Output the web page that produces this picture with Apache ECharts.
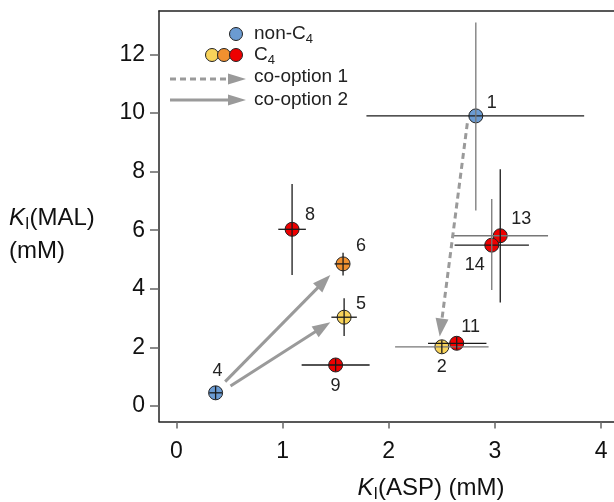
<!DOCTYPE html>
<html>
<head>
    <meta charset="utf-8" />
    <title>KI ASP vs MAL</title>
    <style>
        html, body { margin: 0; padding: 0; background: #fff; }
        #chart { width: 614px; height: 502px; }
    </style>
</head>
<body>
    <div id="chart"></div>
    <script src="https://cdn.jsdelivr.net/npm/echarts@6/dist/echarts.min.js"></script>
    <script>
        // values
        var ids    = ['1', '2', '4', '5', '6', '8', '9', '11', '13', '14'];
        var kiAsp  = [2.82, 2.50, 0.37, 1.58, 1.57, 1.09, 1.50, 2.64, 3.05, 2.97];
        var kiMal  = [9.90, 2.02, 0.45, 3.03, 4.85, 6.03, 1.40, 2.14, 5.81, 5.49];
        var aspLo  = [1.79, 2.06, 0.31, 1.46, 1.49, 0.96, 1.18, 2.37, 2.61, 2.62];
        var aspHi  = [3.84, 2.94, 0.43, 1.70, 1.63, 1.22, 1.82, 2.92, 3.50, 3.32];
        var malLo  = [6.67, 1.80, 0.22, 2.39, 4.45, 4.47, 1.18, 1.92, 3.53, 3.96];
        var malHi  = [13.09, 2.24, 0.68, 3.68, 5.23, 7.58, 1.62, 2.36, 8.08, 7.06];
        var groups = ['non', 'yellow', 'non', 'yellow', 'orange', 'red', 'red', 'red', 'red', 'red'];

        // co-option arrows: [x0, y0, x1, y1] in data units
        var coOption1 = [[2.74, 9.65, 2.48, 2.37]];
        var coOption2 = [[0.46, 0.83, 1.45, 4.47], [0.51, 0.68, 1.45, 2.86]];

        var xTicks = [0, 1, 2, 3, 4];
        var yTicks = [0, 2, 4, 6, 8, 10, 12];

        var palette = { non: '#6b9bd2', yellow: '#f8d35a', orange: '#f1902f', red: '#ee0000' };
        var labelOffset = {
            '1': [16, -13], '2': [0, 20], '4': [2, -22], '5': [17, -13], '6': [18, -18],
            '8': [18, -14], '9': [0, 21], '11': [14, -16], '13': [21, -17], '14': [-17, 20]
        };
        // which error bars are drawn lighter in the original
        var greyBars = { '1y': 1, '13x': 1, '14y': 1, '2x': 1 };
        var FONT = "'Liberation Sans', Arial, sans-serif";

        var pointData = ids.map(function (id, i) {
            return {
                value: [kiAsp[i], kiMal[i]],
                name: id,
                itemStyle: { color: palette[groups[i]] },
                label: { offset: labelOffset[id] }
            };
        });
        var errData = ids.map(function (id, i) {
            return [kiAsp[i], kiMal[i], aspLo[i], aspHi[i], malLo[i], malHi[i], i];
        });

        function arrowItem(dashed) {
            return function (params, api) {
                var p0 = api.coord([api.value(0), api.value(1)]);
                var p1 = api.coord([api.value(2), api.value(3)]);
                var dx = p1[0] - p0[0], dy = p1[1] - p0[1];
                var len = Math.sqrt(dx * dx + dy * dy);
                var ux = dx / len, uy = dy / len;
                var hl = 18, hw = 6.5;
                var bx = p1[0] - ux * hl, by = p1[1] - uy * hl;
                return {
                    type: 'group',
                    children: [{
                        type: 'line',
                        shape: { x1: p0[0], y1: p0[1], x2: bx + ux * 2, y2: by + uy * 2 },
                        style: { stroke: '#9a9a9a', lineWidth: 3, lineDash: dashed ? [6, 4] : null }
                    }, {
                        type: 'polygon',
                        shape: { points: [[p1[0], p1[1]], [bx - uy * hw, by + ux * hw], [bx + uy * hw, by - ux * hw]] },
                        style: { fill: '#9a9a9a' }
                    }]
                };
            };
        }

        function legendArrow(y, dashed) {
            return [{
                type: 'line',
                shape: { x1: 170, y1: y, x2: 230, y2: y },
                style: { stroke: '#9a9a9a', lineWidth: 3, lineDash: dashed ? [6, 4] : null }
            }, {
                type: 'polygon',
                shape: { points: [[228, y - 5.5], [246, y], [228, y + 5.5]] },
                style: { fill: '#9a9a9a' }
            }];
        }

        var subRich = { s: { fontSize: 13, padding: [10, 0, 0, 0], fontFamily: FONT, fill: '#222' } };
        var titleRich = {
            k: { fontStyle: 'italic', fontSize: 24, fontFamily: FONT },
            s: { fontSize: 16, padding: [14, 0, 0, 0], fontFamily: FONT }
        };

        var option = {
            animation: false,
            grid: { left: 159, top: 11, right: 0, bottom: 80.5, containLabel: false, outerBoundsMode: 'none' },
            xAxis: [{
                type: 'value',
                min: -0.163, max: 4.121,
                axisLine: { onZero: false, lineStyle: { color: '#222', width: 1.5 } },
                axisTick: { customValues: xTicks, length: 7, lineStyle: { color: '#666', width: 1.5 } },
                axisLabel: { customValues: xTicks, margin: 19, fontSize: 23, color: '#111', fontFamily: FONT },
                splitLine: { show: false }
            }, {
                type: 'value', position: 'top',
                min: -0.163, max: 4.121,
                axisLine: { show: true, onZero: false, lineStyle: { color: '#222', width: 1.5 } },
                axisTick: { show: false }, axisLabel: { show: false }, splitLine: { show: false }
            }],
            yAxis: {
                type: 'value',
                min: -0.529, max: 13.48,
                axisLine: { show: true, onZero: false, lineStyle: { color: '#222', width: 1.5 } },
                axisTick: { show: true, customValues: yTicks, length: 9, lineStyle: { color: '#666', width: 1.5 } },
                axisLabel: { customValues: yTicks, margin: 14, fontSize: 23, color: '#111', fontFamily: FONT },
                splitLine: { show: false }
            },
            series: [{
                type: 'scatter',
                data: pointData,
                symbolSize: 14,
                itemStyle: { borderColor: '#222', borderWidth: 1, opacity: 1 },
                label: {
                    show: true, position: 'inside', formatter: '{b}',
                    fontSize: 18, color: '#222', fontFamily: FONT
                },
                z: 2
            }, {
                type: 'custom',
                data: errData,
                encode: { x: [0, 2, 3], y: [1, 4, 5] },
                renderItem: function (params, api) {
                    var id = ids[api.value(6)];
                    var c = api.coord([api.value(0), api.value(1)]);
                    var l = api.coord([api.value(2), api.value(1)]);
                    var r = api.coord([api.value(3), api.value(1)]);
                    var lo = api.coord([api.value(0), api.value(4)]);
                    var hi = api.coord([api.value(0), api.value(5)]);
                    return {
                        type: 'group',
                        children: [{
                            type: 'line',
                            shape: { x1: l[0], y1: c[1], x2: r[0], y2: c[1] },
                            style: { stroke: greyBars[id + 'x'] ? '#777' : '#1a1a1a', lineWidth: 1.3 }
                        }, {
                            type: 'line',
                            shape: { x1: c[0], y1: hi[1], x2: c[0], y2: lo[1] },
                            style: { stroke: greyBars[id + 'y'] ? '#777' : '#1a1a1a', lineWidth: 1.3 }
                        }]
                    };
                },
                z: 3
            }, {
                type: 'custom',
                data: coOption1,
                encode: { x: [0, 2], y: [1, 3] },
                renderItem: arrowItem(true),
                z: 4
            }, {
                type: 'custom',
                data: coOption2,
                encode: { x: [0, 2], y: [1, 3] },
                renderItem: arrowItem(false),
                z: 4
            }],
            graphic: [
                { type: 'circle', shape: { cx: 236, cy: 34, r: 6.5 }, style: { fill: palette.non, stroke: '#222', lineWidth: 1 } },
                { type: 'circle', shape: { cx: 212, cy: 55, r: 6.5 }, style: { fill: palette.yellow, stroke: '#222', lineWidth: 1 } },
                { type: 'circle', shape: { cx: 224, cy: 55, r: 6.5 }, style: { fill: palette.orange, stroke: '#222', lineWidth: 1 } },
                { type: 'circle', shape: { cx: 236, cy: 55, r: 6.5 }, style: { fill: palette.red, stroke: '#222', lineWidth: 1 } },
                { type: 'text', x: 254, y: 34, style: { text: 'non-C{s|4}', rich: subRich, font: '19px ' + FONT, fill: '#222', verticalAlign: 'middle' } },
                { type: 'text', x: 254, y: 55, style: { text: 'C{s|4}', rich: subRich, font: '19px ' + FONT, fill: '#222', verticalAlign: 'middle' } },
                { type: 'text', x: 254, y: 77, style: { text: 'co-option 1', font: '19px ' + FONT, fill: '#222', verticalAlign: 'middle' } },
                { type: 'text', x: 254, y: 100, style: { text: 'co-option 2', font: '19px ' + FONT, fill: '#222', verticalAlign: 'middle' } }
            ].concat(legendArrow(79, true), legendArrow(100, false), [
                { type: 'text', x: 9, y: 218, style: { text: '{k|K}{s|I}(MAL)', rich: titleRich, font: '24px ' + FONT, fill: '#111', verticalAlign: 'middle' } },
                { type: 'text', x: 9, y: 251, style: { text: '(mM)', font: '24px ' + FONT, fill: '#111', verticalAlign: 'middle' } },
                { type: 'text', x: 431, y: 488, style: { text: '{k|K}{s|I}(ASP) (mM)', rich: titleRich, font: '24px ' + FONT, fill: '#111', align: 'center', verticalAlign: 'middle' } }
            ])
        };

        var chart = echarts.init(document.getElementById('chart'));
        chart.setOption(option);
    </script>
</body>
</html>
